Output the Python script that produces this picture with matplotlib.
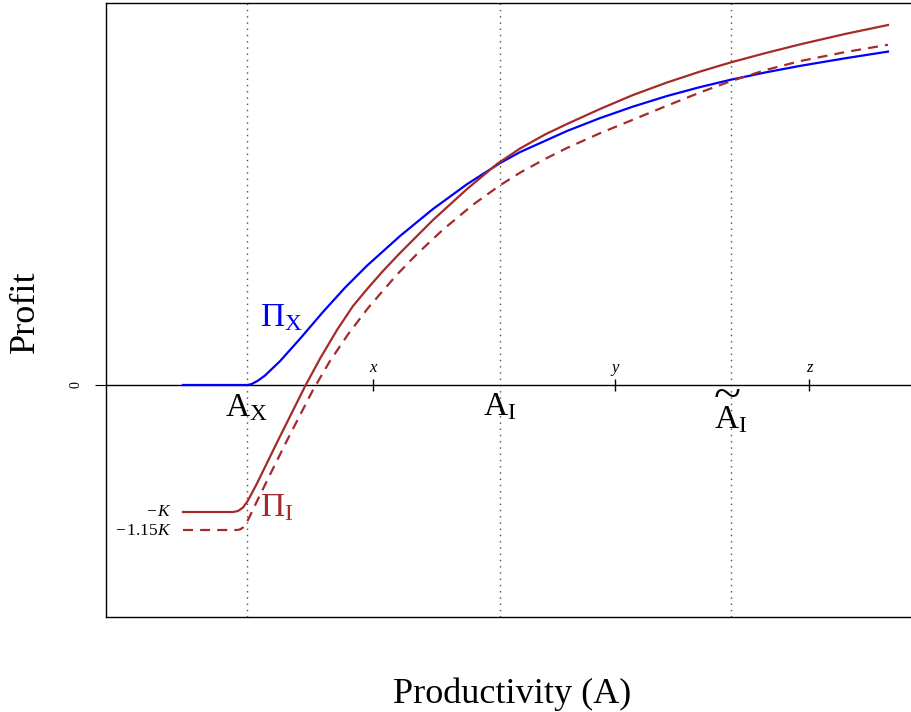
import matplotlib
matplotlib.use("Agg")
import matplotlib.pyplot as plt

plt.rcParams['font.family'] = ['Liberation Serif', 'DejaVu Serif']
plt.rcParams['mathtext.fontset'] = 'custom'
plt.rcParams['mathtext.rm'] = 'Liberation Serif'
plt.rcParams['mathtext.it'] = 'Liberation Serif:italic'
plt.rcParams['mathtext.bf'] = 'Liberation Serif:bold'

# ---- data ----
# Pi_X : profit from exporting
prod_x = [0.953, 1.745, 1.782, 1.807, 1.881, 1.968, 2.153, 2.401, 2.686, 2.958, 3.230,
          3.639, 4.047, 4.468, 4.876, 5.124, 5.705, 6.114, 6.522, 6.943, 7.351,
          7.723, 8.156, 8.589, 9.146, 9.678]
profit_x = [0.0, 0.0, 0.005, 0.011, 0.044, 0.095, 0.238, 0.462, 0.731, 0.973, 1.193,
            1.49, 1.76, 2.008, 2.219, 2.329, 2.54, 2.669, 2.784, 2.89, 2.979,
            3.051, 3.125, 3.191, 3.267, 3.334]

# Pi_I : profit from investing, fixed cost K
prod_i = [0.953, 1.572, 1.634, 1.696, 1.757, 1.869, 2.129, 2.463, 2.649, 2.859, 3.057,
          3.243, 3.428, 3.639, 4.047, 4.468, 4.839, 5.124, 5.433, 5.705, 6.114,
          6.522, 6.943, 7.351, 7.723, 8.156, 8.589, 9.146, 9.678]
profit_i = [-1.27, -1.27, -1.26, -1.225, -1.155, -0.984, -0.554, -0.014, 0.264, 0.55, 0.79,
            0.97, 1.14, 1.32, 1.65, 1.96, 2.21, 2.365, 2.505, 2.61, 2.76,
            2.90, 3.025, 3.134, 3.224, 3.318, 3.406, 3.51, 3.60]

# Pi_I with fixed cost 1.15K
prod_i2 = [0.953, 1.621, 1.658, 1.696, 1.733, 1.770, 1.819, 2.030, 2.252, 2.562, 2.772,
           2.995, 3.243, 3.601, 3.849, 4.171, 4.542, 4.876, 5.124, 5.433, 5.705,
           6.114, 6.522, 6.943, 7.351, 7.723, 8.156, 8.589, 9.146, 9.678]
profit_i2 = [-1.45, -1.45, -1.445, -1.425, -1.385, -1.33, -1.245, -0.896, -0.536, -0.049, 0.24,
             0.506, 0.77, 1.104, 1.31, 1.554, 1.803, 1.997, 2.123, 2.26, 2.37,
             2.518, 2.653, 2.793, 2.925, 3.036, 3.148, 3.239, 3.329, 3.402]

K = 1.27
cutoffs = [1.745, 4.876, 7.735]          # A_X, A_I, A_I tilde
tick_pos = [3.304, 6.300, 8.700]
tick_labels = ['x', 'y', 'z']

blue = 'blue'
brown = '#A52A2A'

fig = plt.figure(figsize=(9.12, 7.12), dpi=100)
ax = fig.add_axes([106/912, 95/712, 808/912, 614/712])
ax.set_xlim(0, 10)
ax.set_ylim(-2.32, 3.82)

# cutoff lines
for c in cutoffs:
    ax.axvline(c, color='0.3', lw=1.0, ls=(0, (1, 3.5)), zorder=1)

# zero line with x, y, z ticks
ax.axhline(0, color='black', lw=1.0, zorder=2)
ax.plot(tick_pos, [0]*len(tick_pos), ls='none', marker='|', ms=9, mew=1.0, color='black')
for p, t in zip(tick_pos, tick_labels):
    ax.text(p, 0.09, t, fontsize=12, style='italic', ha='center', va='bottom')

# profit curves
ax.plot(prod_x, profit_x, color=blue, lw=1.6, zorder=3)
ax.plot(prod_i, profit_i, color=brown, lw=1.6, zorder=3)
ax.plot(prod_i2, profit_i2, color=brown, lw=1.6, dashes=(4.5, 3.2), zorder=3)

# labels
ax.text(cutoffs[0] - 0.006, -0.225, r'$\mathrm{A}_\mathrm{X}$', fontsize=24, ha='center', va='center')
ax.text(cutoffs[1], -0.22, r'$\mathrm{A}_\mathrm{I}$', fontsize=24, ha='center', va='center')
ax.text(cutoffs[2] - 0.01, -0.35, r'$\mathrm{A}_\mathrm{I}$', fontsize=24, ha='center', va='center')
ax.text(cutoffs[2] - 0.05, -0.115, '~', fontsize=36, ha='center', va='center')
ax.text(2.166, 0.67, r'$\Pi_\mathrm{X}$', fontsize=24, color=blue, ha='center', va='center')
ax.text(2.110, -1.23, r'$\Pi_\mathrm{I}$', fontsize=24, color=brown, ha='center', va='center')
ax.text(0.817, -K, r'$-\,K$', fontsize=12.5, ha='right', va='center')
ax.text(0.817, -1.15*K, r'$-\,1.15K$', fontsize=12.5, ha='right', va='center')

ax.set_xticks([])
ax.set_yticks([0])
ax.set_yticklabels(['0'], rotation=90, va='center')
ax.tick_params(axis='y', length=8, width=0.8, pad=9, labelsize=10)
for s in ax.spines.values():
    s.set_linewidth(1.0)

fig.text(25/912, 1 - 312/712, 'Profit', fontsize=26, rotation=90, ha='center', va='center')
fig.text(512/912, 1 - 703/712, 'Productivity (A)', fontsize=26, ha='center', va='baseline')

fig.savefig('out.png', dpi=100)
